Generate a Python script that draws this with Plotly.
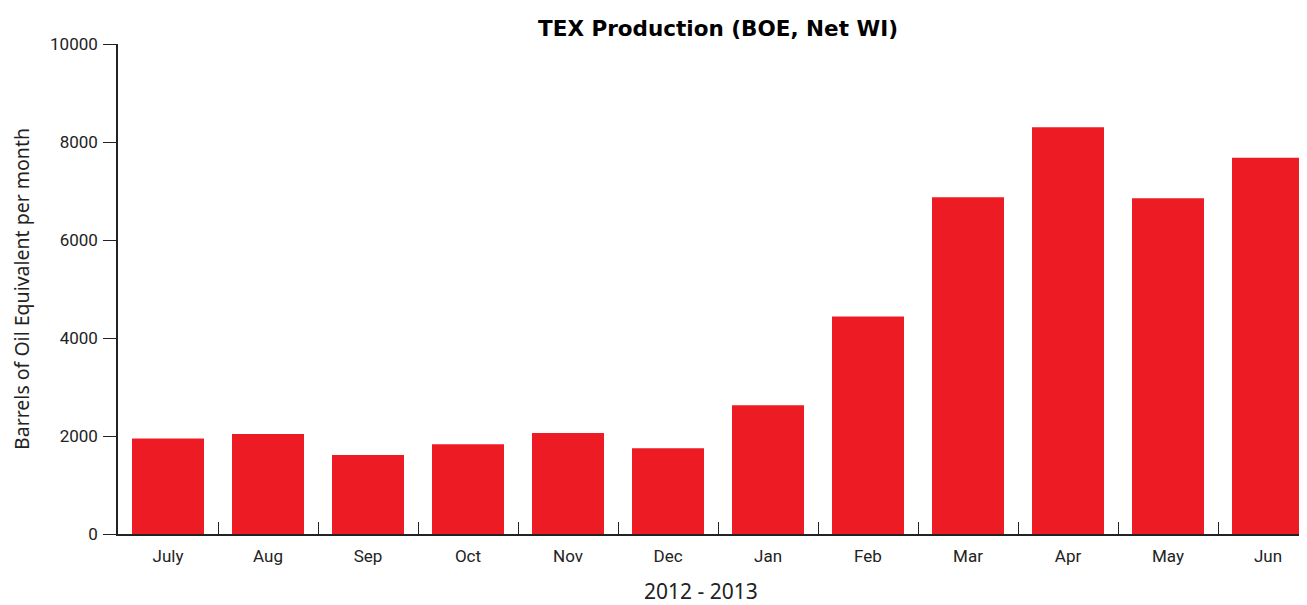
import plotly.graph_objects as go

months = ["July", "Aug", "Sep", "Oct", "Nov", "Dec", "Jan", "Feb", "Mar", "Apr", "May", "Jun"]
boe = [1950, 2040, 1610, 1830, 2060, 1750, 2630, 4440, 6870, 8300, 6850, 7680]
y_ticks = [0, 2000, 4000, 6000, 8000, 10000]
y_tick_text = ["0", "2000", "4000", "6000", "8000", "10000"]

fig = go.Figure(go.Bar(x=months, y=boe, marker=dict(color="#ED1C24", line=dict(width=0)), width=0.72))

tick_font = dict(family="Roboto, sans-serif", size=17, color="#222")

W, H = 1299, 597
fig.update_layout(
    width=W, height=H,
    margin=dict(l=110, r=0, t=36, b=71),
    paper_bgcolor="white", plot_bgcolor="white",
    showlegend=False,
    title=dict(text="<b>TEX Production (BOE, Net WI)</b>", x=710 / W, xanchor="center",
               y=1 - 20 / H, yanchor="middle",
               font=dict(family="DejaVu Sans", size=21.5, color="black")),
    xaxis=dict(range=[-0.5, 11.39], tickson="boundaries", ticks="inside", ticklen=12,
               tickcolor="#222", tickwidth=1, showline=True, linecolor="#222", linewidth=1.5,
               showgrid=False, zeroline=False, tickfont=tick_font, automargin=False,
               ticklabelstandoff=6),
    yaxis=dict(range=[0, 10000], tickvals=y_ticks, ticktext=y_tick_text, ticks="outside", ticklen=13,
               tickcolor="#222", tickwidth=1, showline=True, linecolor="#222", linewidth=1.5,
               showgrid=False, zeroline=False, tickfont=tick_font, automargin=False,
               ticklabelstandoff=2,
               title=dict(text="Barrels of Oil Equivalent per month", standoff=18,
                          font=dict(family="Noto Sans", size=19.5, color="#222"))),
    bargap=0.28,
    annotations=[dict(text="2012 - 2013", xref="paper", yref="paper",
                      x=(701 - 118) / 1189, y=(534 - 591) / 490,
                      xanchor="center", yanchor="middle", showarrow=False,
                      font=dict(family="Noto Sans", size=21, color="#222"))],
)

fig.write_html("out.html")
